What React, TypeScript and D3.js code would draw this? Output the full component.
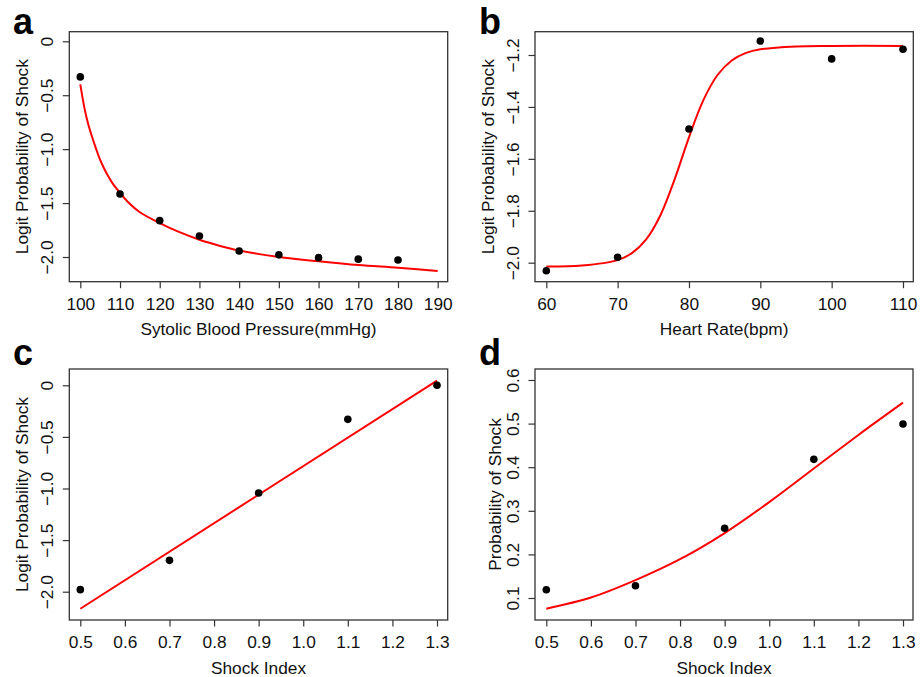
import React, { useEffect, useRef } from "react";
import * as d3 from "d3";

// panel a: systolic blood pressure
const sbpX = [100, 110, 120, 130, 140, 150, 160, 170, 180];
const sbpY = [-0.33, -1.416, -1.663, -1.805, -1.944, -1.98, -2.006, -2.02, -2.028];
const sbpFitX = [100, 101, 102, 103, 104, 105, 106, 107, 108, 110, 112, 115, 120, 125, 130, 135, 140, 150, 160, 170, 180, 190];
const sbpFitY = [-0.4, -0.61, -0.77, -0.89, -1.0, -1.1, -1.18, -1.25, -1.31, -1.405, -1.49, -1.585, -1.685, -1.77, -1.84, -1.895, -1.94, -2.0, -2.04, -2.075, -2.1, -2.13];
const sbpTicksX = [100, 110, 120, 130, 140, 150, 160, 170, 180, 190];
const logitTicks = [0, -0.5, -1.0, -1.5, -2.0];

// panel b: heart rate
const hrX = [60, 70, 80, 90, 100, 110];
const hrY = [-2.031, -1.979, -1.485, -1.146, -1.215, -1.178];
const hrFitX = [60, 65, 70, 72, 74, 76, 78, 80, 82, 84, 86, 88, 90, 95, 100, 110];
const hrFitY = [-2.015, -2.011, -1.99, -1.963, -1.91, -1.817, -1.678, -1.517, -1.375, -1.277, -1.221, -1.192, -1.178, -1.167, -1.165, -1.165];
const hrTicksX = [60, 70, 80, 90, 100, 110];
const hrTicksY = [-1.2, -1.4, -1.6, -1.8, -2.0];

// panels c and d: shock index
const siX = [0.5, 0.7, 0.9, 1.1, 1.3];
const siLogit = [-1.98, -1.696, -1.044, -0.33, 0.0];
const siLogitFitX = [0.5, 1.3];
const siLogitFitY = [-2.165, 0.045];
const siProb = [0.119, 0.128, 0.26, 0.418, 0.499];
const siProbFitX = [0.5, 0.6, 0.7, 0.8, 0.9, 1.0, 1.1, 1.2, 1.3];
const siProbFitY = [0.0755, 0.101, 0.141, 0.189, 0.249, 0.32, 0.397, 0.474, 0.548];
const siTicksX = [0.5, 0.6, 0.7, 0.8, 0.9, 1.0, 1.1, 1.2, 1.3];
const probTicks = [0.1, 0.2, 0.3, 0.4, 0.5, 0.6];

const FONT = "'Liberation Sans', Arial, sans-serif";

function App() {
    const chart = useRef(null);

    useEffect(() => {
        const svg = d3.select(chart.current);

        const panels = [
            {
                letter: "a", box: [69.3, 447.7, 31.7, 281.7],
                x: d3.scaleLinear().domain([100, 190]).range([80.3, 437.7]),
                y: d3.scaleLinear().domain([0, -2]).range([41.3, 257]),
                px: sbpX, py: sbpY, fx: sbpFitX, fy: sbpFitY,
                xt: sbpTicksX, yt: logitTicks, xf: d3.format("d"), yf: (d) => d === 0 ? "0" : d3.format(".1f")(d),
                xl: "Sytolic Blood Pressure(mmHg)", yl: "Logit Probability of Shock", ylx: 28.3, lx: 13, ly: 33.5
            },
            {
                letter: "b", box: [535, 913.3, 31.7, 281.7],
                x: d3.scaleLinear().domain([60, 110]).range([546.3, 903]),
                y: d3.scaleLinear().domain([-1.2, -2.0]).range([55, 262.7]),
                px: hrX, py: hrY, fx: hrFitX, fy: hrFitY,
                xt: hrTicksX, yt: hrTicksY, xf: d3.format("d"), yf: d3.format(".1f"),
                xl: "Heart Rate(bpm)", yl: "Logit Probability of Shock", ylx: 494, lx: 479, ly: 33.5
            },
            {
                letter: "c", box: [69.3, 447.7, 369, 620],
                x: d3.scaleLinear().domain([0.5, 1.3]).range([80.3, 437]),
                y: d3.scaleLinear().domain([0, -2]).range([385.3, 591.7]),
                px: siX, py: siLogit, fx: siLogitFitX, fy: siLogitFitY,
                xt: siTicksX, yt: logitTicks, xf: d3.format(".1f"), yf: (d) => d === 0 ? "0" : d3.format(".1f")(d),
                xl: "Shock Index", yl: "Logit Probability of Shock", ylx: 28.3, lx: 13, ly: 365
            },
            {
                letter: "d", box: [535, 913, 369, 620],
                x: d3.scaleLinear().domain([0.5, 1.3]).range([546.3, 903]),
                y: d3.scaleLinear().domain([0.6, 0.1]).range([380, 598]),
                px: siX, py: siProb, fx: siProbFitX, fy: siProbFitY,
                xt: siTicksX, yt: probTicks, xf: d3.format(".1f"), yf: d3.format(".1f"),
                xl: "Shock Index", yl: "Probability of Shock", ylx: 500.7, lx: 479, ly: 365
            }
        ];

        panels.forEach(p => {
            const [l, r, t, b] = p.box;
            const g = svg.append("g");

            // fitted curve
            const line = d3.line()
                .x((d, i) => p.x(p.fx[i]))
                .y((d, i) => p.y(p.fy[i]))
                .curve(d3.curveCatmullRom.alpha(0.5));
            g.append("path")
                .attr("d", line(p.fx))
                .attr("fill", "none")
                .attr("stroke", "#ff0000")
                .attr("stroke-width", 2);

            // observed points
            g.selectAll(".pt")
                .data(p.px)
                .enter()
                .append("circle")
                .attr("class", "pt")
                .attr("cx", d => p.x(d))
                .attr("cy", (d, i) => p.y(p.py[i]))
                .attr("r", 3.8)
                .attr("fill", "#000");

            // box
            g.append("rect")
                .attr("x", l).attr("y", t)
                .attr("width", r - l).attr("height", b - t)
                .attr("fill", "none")
                .attr("stroke", "#333")
                .attr("stroke-width", 1.3);

            // x axis
            const xa = g.append("g")
                .attr("transform", "translate(0," + b + ")")
                .call(d3.axisBottom(p.x).tickValues(p.xt).tickSize(6.5).tickFormat(p.xf));
            xa.select(".domain").remove();
            xa.selectAll("line").attr("stroke", "#333").attr("stroke-width", 1.2);
            xa.selectAll("text")
                .attr("y", 28.3).attr("dy", 0)
                .attr("font-size", 17.3).attr("font-family", FONT).attr("fill", "#111");

            // y axis
            const ya = g.append("g")
                .attr("transform", "translate(" + l + ",0)")
                .call(d3.axisLeft(p.y).tickValues(p.yt).tickSize(6.5).tickFormat(p.yf));
            ya.select(".domain").remove();
            ya.selectAll("line").attr("stroke", "#333").attr("stroke-width", 1.2);
            ya.selectAll("text")
                .attr("x", 0).attr("y", 0).attr("dy", 0)
                .attr("text-anchor", "middle")
                .attr("transform", "translate(-16.3,0) rotate(-90)")
                .attr("font-size", 17.3).attr("font-family", FONT).attr("fill", "#111");

            // axis titles
            g.append("text")
                .attr("x", (l + r) / 2)
                .attr("y", b + 53.5)
                .attr("text-anchor", "middle")
                .attr("font-size", 17.3).attr("font-family", FONT).attr("fill", "#111")
                .text(p.xl);
            g.append("text")
                .attr("transform", "translate(" + p.ylx + "," + (t + b) / 2 + ") rotate(-90)")
                .attr("text-anchor", "middle")
                .attr("font-size", 17.3).attr("font-family", FONT).attr("fill", "#111")
                .text(p.yl);

            // panel letter
            g.append("text")
                .attr("x", p.lx).attr("y", p.ly)
                .attr("font-size", 36).attr("font-weight", "bold").attr("font-family", FONT)
                .attr("fill", "#000")
                .text(p.letter);
        });

        return () => {
            svg.selectAll("*").remove();
        };
    }, []);

    return (
        <svg ref={chart} width={921} height={677}
            style={{ position: "absolute", left: 0, top: 0, background: "#fff" }}></svg>
    );
}

export default App;
